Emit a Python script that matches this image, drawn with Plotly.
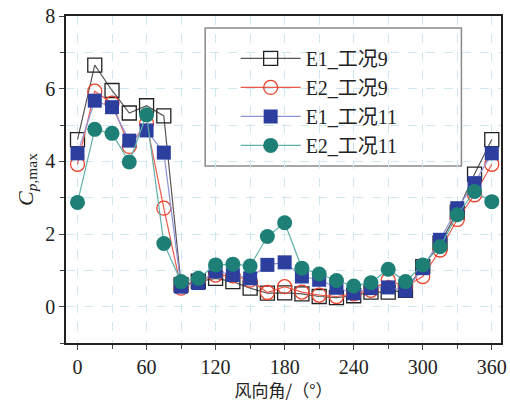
import plotly.graph_objects as go

angles = list(range(0, 361, 15))
e1_case9 = [4.6, 6.65, 5.95, 5.33, 5.53, 5.25, 0.6, 0.7, 0.78, 0.69, 0.51, 0.37, 0.38, 0.35, 0.28, 0.25, 0.3, 0.4, 0.4, 0.45, 1.1, 1.75, 2.6, 3.65, 4.6]
e2_case9 = [3.92, 5.93, 5.6, 4.41, 5.05, 2.71, 0.51, 0.7, 0.87, 0.85, 0.73, 0.39, 0.55, 0.4, 0.32, 0.28, 0.35, 0.45, 0.73, 0.55, 0.83, 1.56, 2.4, 3.08, 3.92]
e1_case11 = [4.22, 5.67, 5.49, 4.57, 4.85, 4.24, 0.55, 0.65, 0.97, 0.87, 0.78, 1.15, 1.22, 0.83, 0.74, 0.52, 0.37, 0.51, 0.53, 0.44, 1.06, 1.84, 2.71, 3.4, 4.22]
e2_case11 = [2.87, 4.88, 4.77, 3.98, 5.28, 1.74, 0.69, 0.78, 1.15, 1.17, 1.12, 1.93, 2.31, 1.06, 0.9, 0.72, 0.57, 0.66, 1.03, 0.69, 1.15, 1.65, 2.53, 3.17, 2.89]

names = ["E1_工况9", "E2_工况9", "E1_工况11", "E2_工况11"]
x_ticks = [0, 60, 120, 180, 240, 300, 360]
y_ticks = [0, 2, 4, 6, 8]

FONT = '"Liberation Serif", "Noto Sans CJK SC", serif'

styles = [
    dict(line=dict(color="#5a5555", width=1.2),
         marker=dict(symbol="square-open", size=14, color="#222222", line=dict(width=1.3))),
    dict(line=dict(color="#ee5a4a", width=1.2),
         marker=dict(symbol="circle-open", size=14, color="#e8402a", line=dict(width=1.3))),
    dict(line=dict(color="#8f93d6", width=1.2),
         marker=dict(symbol="square", size=14, color="#2c3f9f")),
    dict(line=dict(color="#5fb0a8", width=1.2),
         marker=dict(symbol="circle", size=15, color="#1e7f76")),
]

fig = go.Figure()
for i, (name, ys) in enumerate(zip(names, [e1_case9, e2_case9, e1_case11, e2_case11])):
    fig.add_trace(go.Scatter(x=angles, y=ys, mode="lines+markers", name=name,
                             legendgroup=str(i), **styles[i]))

grid = dict(showgrid=True, gridcolor="#cfe7ee", griddash="dash", gridwidth=1)

# legend frame
fig.add_shape(type="rect", xref="paper", yref="paper",
              x0=0.32, x1=0.909, y0=0.541, y1=0.963,
              line=dict(color="#8a8a8a", width=1.5), fillcolor="white", layer="below")

fig.update_layout(
    width=510, height=402,
    margin=dict(l=66, r=3, t=16, b=59),
    paper_bgcolor="white", plot_bgcolor="white",
    font=dict(family=FONT, size=20, color="#222222"),
    showlegend=True,
    legend=dict(x=0.39, y=0.93, xanchor="left", yanchor="top",
                borderwidth=0, bgcolor="rgba(0,0,0,0)",
                font=dict(family=FONT, size=20), tracegroupgap=0,
                traceorder="grouped", itemwidth=60),
    xaxis=dict(range=[-10, 368], tickvals=x_ticks, ticks="outside", ticklen=5,
               tickwidth=1.2, showline=True, linecolor="#222222", linewidth=1.5,
               mirror=True, zeroline=False, ticklabeloverflow="allow",
               minor=dict(dtick=30, tick0=0, ticks="outside", ticklen=4, showgrid=True,
                          gridcolor="#cfe7ee", griddash="dash"),
               title=dict(text="风向角/（°）", font=dict(family='"Noto Sans CJK SC", sans-serif', size=17), standoff=6),
               **grid),
    yaxis=dict(range=[-1, 8], tickvals=y_ticks, ticks="outside", ticklen=5,
               tickwidth=1.2, showline=True, linecolor="#222222", linewidth=1.5,
               mirror=True, zeroline=False, ticklabeloverflow="allow",
               minor=dict(dtick=1, tick0=0, ticks="outside", ticklen=4, showgrid=True,
                          gridcolor="#cfe7ee", griddash="dash"),
               title=dict(text="<i>C</i><sub><i>p</i>,max</sub>", font=dict(family=FONT, size=22), standoff=6),
               **grid),
)

fig.write_html("out.html", config={"displayModeBar": False},
               post_script="document.body.style.margin='0';")
